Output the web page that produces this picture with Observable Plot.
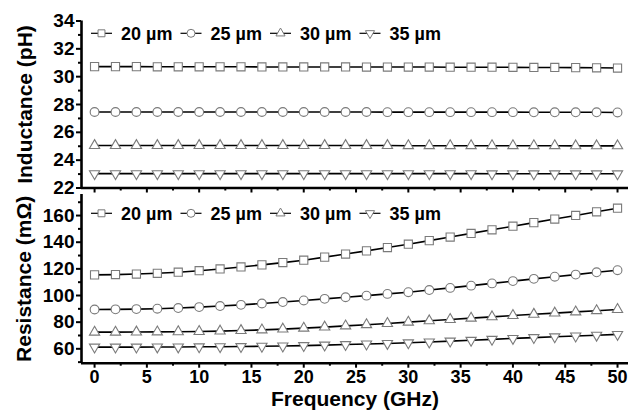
<!DOCTYPE html>
<html>
<head>
<meta charset="utf-8">
<script src="https://cdn.jsdelivr.net/npm/d3@7"></script>
<script src="https://cdn.jsdelivr.net/npm/@observablehq/plot@0.6"></script>
<style>
  html, body { margin: 0; padding: 0; background: #fff; }
  #chart { position: relative; width: 644px; height: 412px; overflow: hidden; font-family: "Liberation Sans", Arial, sans-serif; font-weight: bold; }
  #chart svg { position: absolute; left: 0; overflow: visible; }
</style>
</head>
<body>
<div id="chart"></div>
<script>
// ---------- data ----------
const freq = [0,2,4,6,8,10,12,14,16,18,20,22,24,26,28,30,32,34,36,38,40,42,44,46,48,50];
const widths = ["20 µm", "25 µm", "30 µm", "35 µm"];
const symbols = ["square", "circle", "triangle", "triangle-down"];

// Inductance (pH)
const L20 = [30.72,30.72,30.72,30.71,30.71,30.71,30.71,30.71,30.70,30.70,30.70,30.70,30.70,30.69,30.69,30.69,30.69,30.68,30.68,30.68,30.67,30.66,30.66,30.65,30.64,30.62];
const L25 = [27.46,27.46,27.46,27.46,27.46,27.46,27.46,27.46,27.46,27.46,27.46,27.46,27.46,27.46,27.45,27.45,27.45,27.45,27.45,27.45,27.45,27.44,27.44,27.44,27.44,27.43];
const L30 = [25.05,25.05,25.05,25.05,25.05,25.05,25.05,25.05,25.05,25.05,25.05,25.05,25.05,25.05,25.05,25.04,25.04,25.04,25.04,25.04,25.04,25.04,25.04,25.03,25.03,25.03];
const L35 = [23.03,23.03,23.03,23.03,23.03,23.03,23.03,23.03,23.03,23.03,23.03,23.03,23.03,23.03,23.03,23.03,23.03,23.03,23.03,23.02,23.02,23.02,23.02,23.02,23.02,23.02];

// Resistance (mΩ)
const R20 = [115.5,115.7,116.1,116.7,117.5,118.6,119.9,121.4,123.0,124.7,126.5,128.8,131.1,133.5,136.0,138.5,141.2,143.9,146.6,149.3,152.0,154.7,157.4,160.1,162.8,165.5];
const R25 = [89.5,89.6,89.8,90.1,90.6,91.3,92.1,93.0,94.0,95.1,96.3,97.5,98.7,99.9,101.2,102.5,104.1,105.7,107.4,109.1,110.8,112.5,114.1,115.7,117.4,119.0];
const R30 = [72.5,72.5,72.6,72.7,72.8,73.0,73.3,73.7,74.2,74.8,75.5,76.3,77.2,78.1,79.0,80.0,81.0,82.0,83.0,84.0,85.0,85.9,86.8,87.7,88.6,89.5];
const R35 = [61.3,61.3,61.3,61.4,61.4,61.5,61.6,61.7,61.9,62.1,62.4,62.8,63.2,63.6,64.0,64.5,65.1,65.8,66.4,67.1,67.8,68.4,69.0,69.6,70.2,70.8];

const xMajor = [0,5,10,15,20,25,30,35,40,45,50];
const xMinor = [2.5,7.5,12.5,17.5,22.5,27.5,32.5,37.5,42.5,47.5];
const yTopMajor = [22,24,26,28,30,32,34];
const yTopMinor = [23,25,27,29,31,33];
const yBotMajor = [60,80,100,120,140,160];
const yBotMinor = [50,70,90,110,130,150,170];

const titleTop = "Inductance (pH)";
const titleBot = "Resistance (mΩ)";
const titleX = "Frequency (GHz)";

// ---------- helpers ----------
const markerStroke = "#7a7a7a";
const xDomain = [-1.25, 51.05];
const tickFont = 19;
const xTickFont = 18;
const titleFont = 21;
const legendFont = 18;

function seriesMarks(series) {
  const marks = [];
  series.forEach((vals) => {
    const rows = freq.map((f, j) => ({f, v: vals[j]}));
    marks.push(Plot.line(rows, {x: "f", y: "v", stroke: "black", strokeWidth: 1.6}));
  });
  series.forEach((vals, i) => {
    const rows = freq.map((f, j) => ({f, v: vals[j]}));
    const sym = symbols[i];
    const opts = {x: "f", y: "v", fill: "white", stroke: markerStroke, strokeWidth: 1.1};
    if (sym === "square") Object.assign(opts, {symbol: "square", r: 4.6});
    else if (sym === "circle") Object.assign(opts, {symbol: "circle", r: 4.4});
    else if (sym === "triangle") Object.assign(opts, {symbol: "triangle", r: 3.8});
    else Object.assign(opts, {symbol: "triangle", r: 3.8, rotate: 180});
    marks.push(Plot.dot(rows, opts));
  });
  return marks;
}

function axisMarks(yDomain, yMajor, yMinor, showXLabels) {
  return [
    Plot.axisY(yMajor, {tickSize: 5, tickPadding: 2, strokeWidth: 2, label: null, fontSize: tickFont, fontWeight: "bold"}),
    Plot.axisY(yMinor, {tickSize: 3, strokeWidth: 2, tickFormat: () => "", label: null}),
    Plot.axisX(xMajor, {anchor: "bottom", tickSize: 5, tickPadding: 2, strokeWidth: 2, label: null,
      tickFormat: showXLabels ? (d => String(d)) : (() => ""), fontSize: xTickFont, fontWeight: "bold"}),
    Plot.axisX(xMinor, {anchor: "bottom", tickSize: 3, strokeWidth: 2, tickFormat: () => "", label: null}),
    Plot.ruleX([xDomain[0]], {stroke: "black", strokeWidth: 2.6}),
    Plot.ruleY([yDomain[0]], {stroke: "black", strokeWidth: 2.6})
  ];
}

function addLegend(svg, cy) {
  const g = d3.select(svg).append("g").attr("font-family", "Liberation Sans, Arial, sans-serif")
    .attr("font-weight", "bold").attr("font-size", legendFont).attr("text-anchor", "start");
  const starts = [91, 180.5, 270, 359.5];
  widths.forEach((w, i) => {
    const x0 = starts[i];
    g.append("line").attr("x1", x0).attr("x2", x0 + 21).attr("y1", cy).attr("y2", cy)
      .attr("stroke", "black").attr("stroke-width", 1.2);
    let type = d3.symbolSquare, size = 48, rot = 0;
    if (symbols[i] === "circle") { type = d3.symbolCircle; size = 50; }
    if (symbols[i] === "triangle") { type = d3.symbolTriangle; size = 36; }
    if (symbols[i] === "triangle-down") { type = d3.symbolTriangle; size = 36; rot = 180; }
    g.append("path").attr("d", d3.symbol(type, size)())
      .attr("transform", `translate(${x0 + 10.5},${cy}) rotate(${rot})`)
      .attr("fill", "white").attr("stroke", markerStroke).attr("stroke-width", 1);
    g.append("text").attr("x", x0 + 30).attr("y", cy).attr("dy", "0.36em")
      .attr("text-anchor", "start").attr("fill", "black").text(w);
  });
}

const common = {
  width: 644,
  marginLeft: 81, marginRight: 16,
  style: {background: "transparent", overflow: "visible", fontFamily: "Liberation Sans, Arial, sans-serif", fontWeight: "bold", fontSize: tickFont + "px", color: "black"}
};

// ---------- top panel ----------
const topDomain = [22, 34];
const topPlot = Plot.plot({
  ...common,
  height: 196, marginTop: 20.5, marginBottom: 8.5,
  x: {domain: xDomain, axis: null},
  y: {domain: topDomain, axis: null},
  marks: [
    ...axisMarks(topDomain, yTopMajor, yTopMinor, false),
    ...seriesMarks([L20, L25, L30, L35]),
    Plot.text([titleTop], {frameAnchor: "left", dx: -56, rotate: -90, textAnchor: "middle", lineAnchor: "middle",
      fontSize: titleFont, fontWeight: "bold", fill: "black"})
  ]
});
topPlot.style.top = "0px";

// ---------- bottom panel ----------
const botDomain = [49.2, 175.8];
const botPlot = Plot.plot({
  ...common,
  height: 222, marginTop: 4, marginBottom: 49.3,
  x: {domain: xDomain, axis: null},
  y: {domain: botDomain, axis: null},
  marks: [
    ...axisMarks(botDomain, yBotMajor, yBotMinor, true),
    ...seriesMarks([R20, R25, R30, R35]),
    Plot.text([titleBot], {frameAnchor: "left", dx: -57, rotate: -90, textAnchor: "middle", lineAnchor: "middle",
      fontSize: titleFont, fontWeight: "bold", fill: "black"}),
    Plot.text([titleX], {frameAnchor: "bottom", dy: 36.5, textAnchor: "middle", lineAnchor: "middle",
      fontSize: titleFont, fontWeight: "bold", fill: "black"})
  ]
});
botPlot.style.top = "190px";

const chart = document.getElementById("chart");
chart.appendChild(topPlot);
chart.appendChild(botPlot);
addLegend(topPlot, 33.3);
addLegend(botPlot, 23.3);
</script>
</body>
</html>
